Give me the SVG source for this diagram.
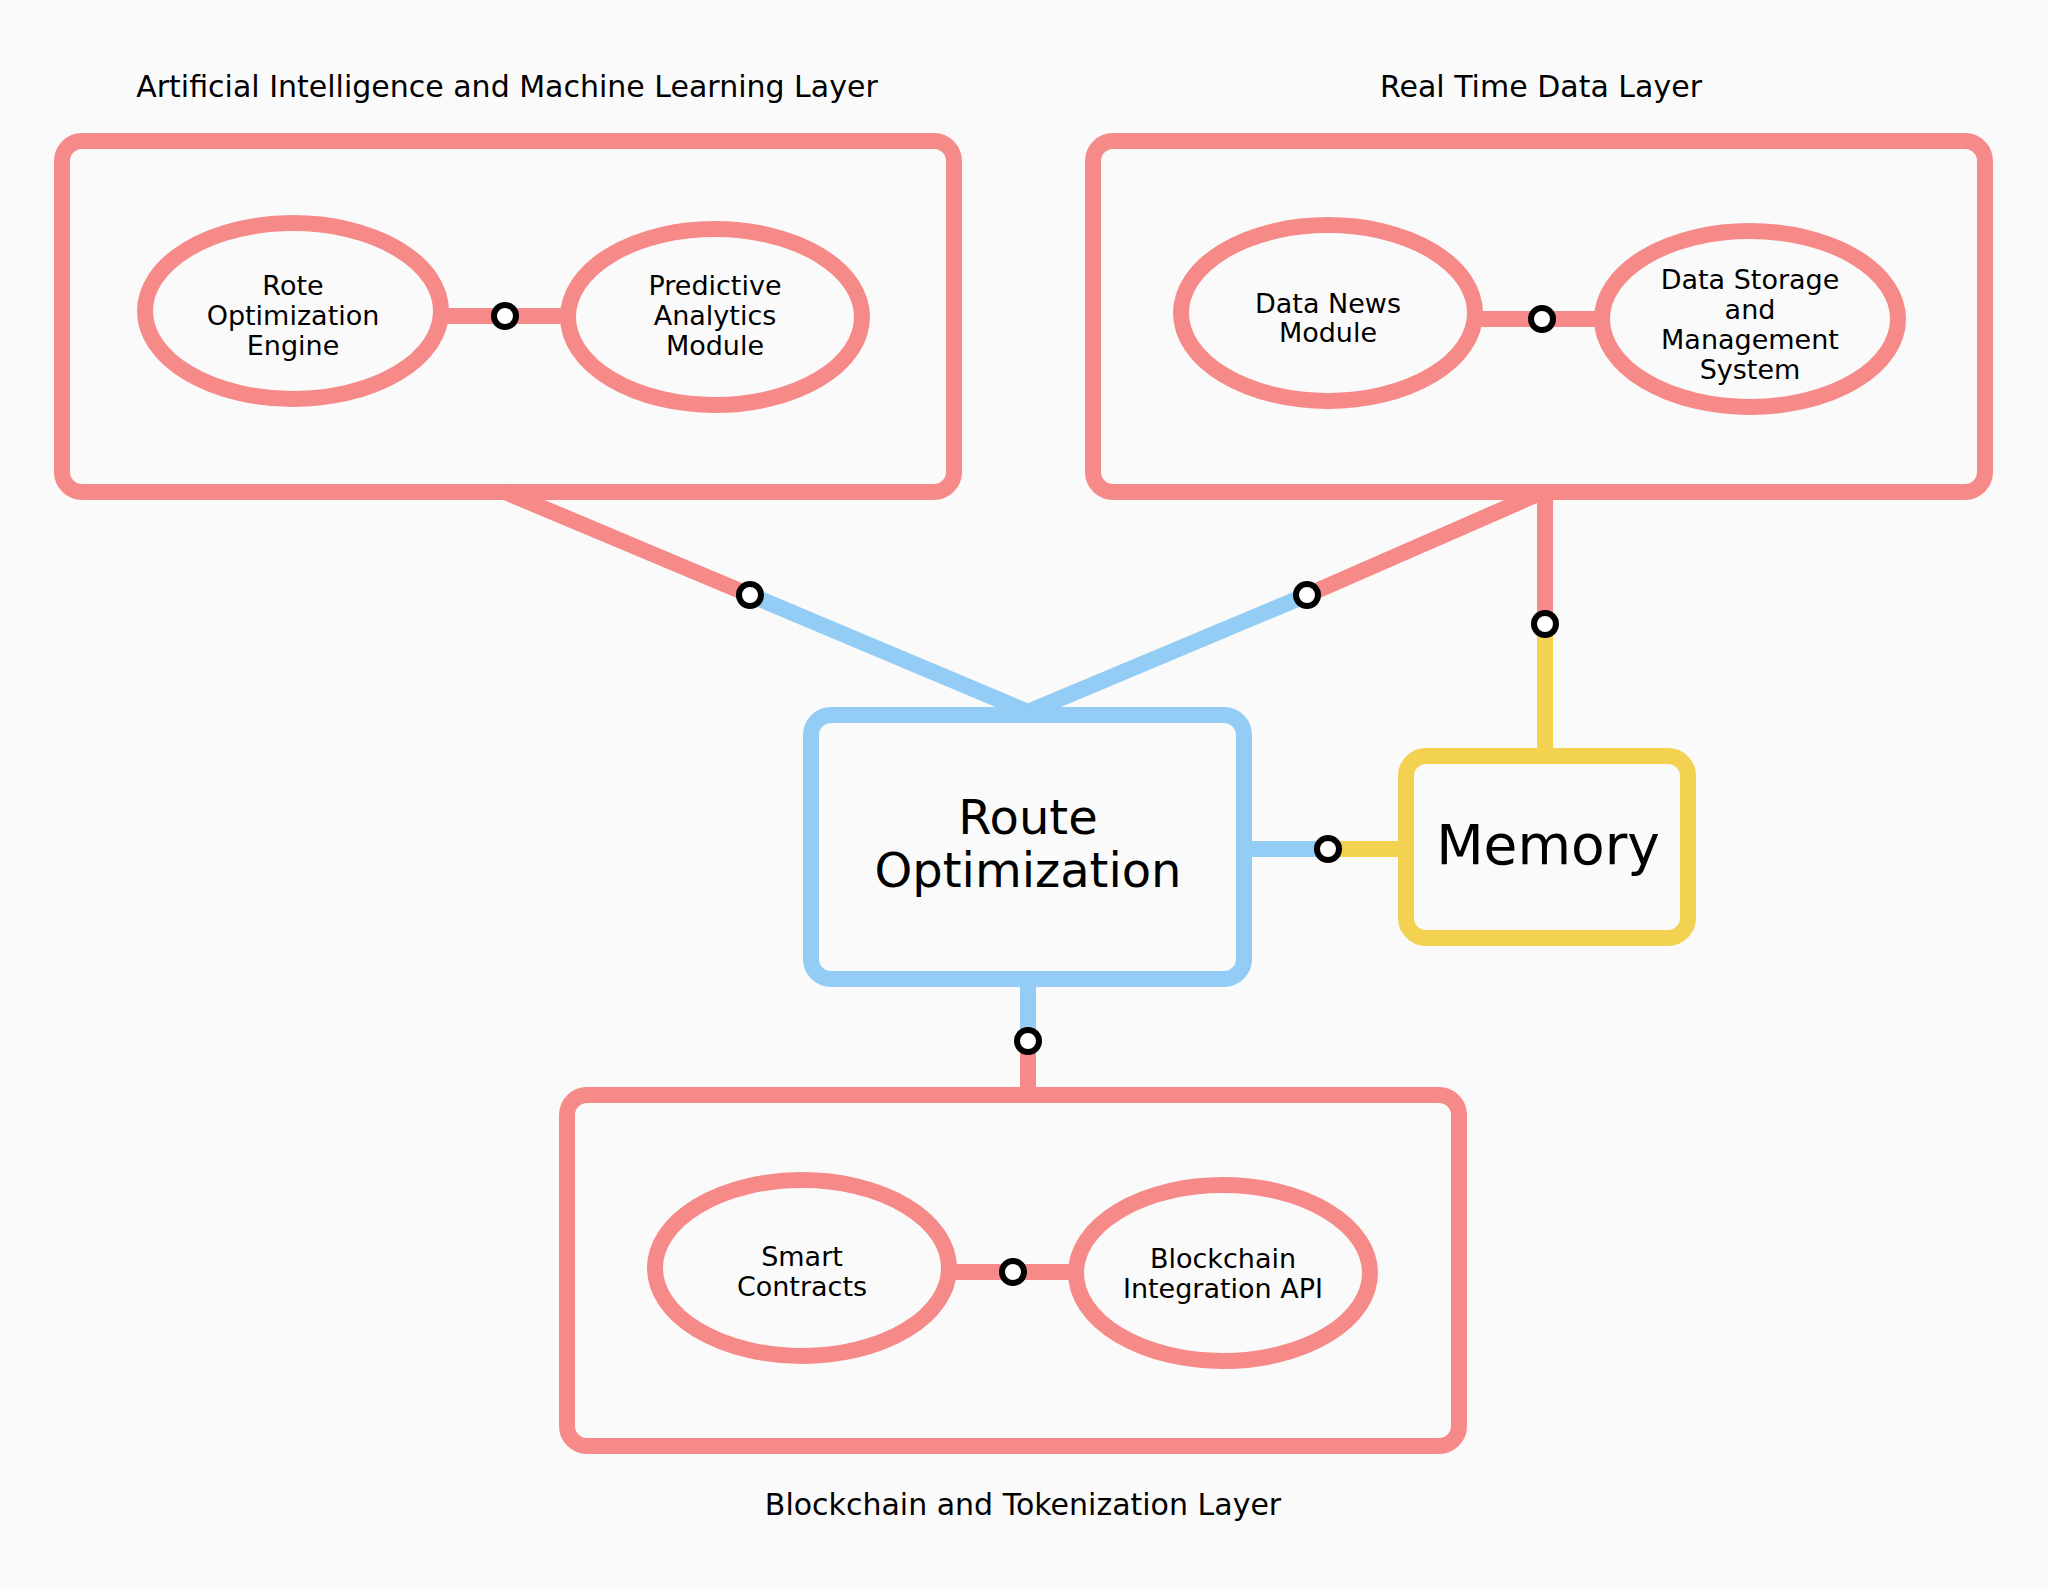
<svg xmlns="http://www.w3.org/2000/svg" width="2048" height="1588" viewBox="0 0 2048 1588">
<style>
.bg{fill:#FAFAFA}
.box{fill:#FAFAFA;stroke-width:16}
.red{stroke:#F68A89}
.blue{stroke:#93CCF4}
.yel{stroke:#F4D251}
.ell{fill:#FAFAFA;stroke:#F68A89;stroke-width:16}
.ln{fill:none;stroke-width:16}
.dot{fill:#FFFFFF;stroke:#000000;stroke-width:6}
text{font-family:"DejaVu Sans","Liberation Sans",sans-serif;fill:#000000;text-anchor:middle}
.t{font-size:30px}
.e{font-size:27px}
</style>
<rect class="bg" x="0" y="0" width="2048" height="1588"/>
<g id="ai-layer">
<rect class="box red" x="62" y="141" width="892" height="351" rx="20"/>
<text class="t" x="507" y="97">Artificial Intelligence and Machine Learning Layer</text>
</g>
<g id="realtime-layer">
<rect class="box red" x="1093" y="141" width="892" height="351" rx="20"/>
<text class="t" x="1541" y="97">Real Time Data Layer</text>
</g>
<g id="blockchain-layer">
<rect class="box red" x="567" y="1095" width="892" height="351" rx="20"/>
<text class="t" x="1023" y="1515">Blockchain and Tokenization Layer</text>
</g>
<g id="connectors">
<line class="ln red" x1="505" y1="492" x2="750" y2="595"/>
<line class="ln blue" x1="750" y1="595" x2="1028" y2="712"/>
<line class="ln red" x1="1538" y1="494" x2="1307" y2="595"/>
<line class="ln blue" x1="1307" y1="595" x2="1028" y2="712"/>
<line class="ln red" x1="1545" y1="494" x2="1545" y2="624"/>
<line class="ln yel" x1="1545" y1="624" x2="1545" y2="756"/>
<line class="ln blue" x1="1244" y1="849" x2="1328" y2="849"/>
<line class="ln yel" x1="1328" y1="849" x2="1406" y2="849"/>
<line class="ln blue" x1="1028" y1="979" x2="1028" y2="1041"/>
<line class="ln red" x1="1028" y1="1041" x2="1028" y2="1095"/>
<line class="ln red" x1="435" y1="316" x2="572" y2="316"/>
<line class="ln red" x1="1470" y1="319" x2="1607" y2="319"/>
<line class="ln red" x1="944" y1="1272" x2="1081" y2="1272"/>
</g>
<g id="rote-engine">
<ellipse class="ell" cx="293" cy="311" rx="148" ry="88"/>
<text class="e" x="293" y="295">Rote</text>
<text class="e" x="293" y="325">Optimization</text>
<text class="e" x="293" y="355">Engine</text>
</g>
<g id="predictive">
<ellipse class="ell" cx="715" cy="317" rx="147" ry="88"/>
<text class="e" x="715" y="295">Predictive</text>
<text class="e" x="715" y="325">Analytics</text>
<text class="e" x="715" y="355">Module</text>
</g>
<g id="data-news">
<ellipse class="ell" cx="1328" cy="313" rx="147" ry="88"/>
<text class="e" x="1328" y="313">Data News</text>
<text class="e" x="1328" y="342">Module</text>
</g>
<g id="data-storage">
<ellipse class="ell" cx="1750" cy="319" rx="148" ry="88"/>
<text class="e" x="1750" y="289">Data Storage</text>
<text class="e" x="1750" y="319">and</text>
<text class="e" x="1750" y="349">Management</text>
<text class="e" x="1750" y="379">System</text>
</g>
<g id="smart-contracts">
<ellipse class="ell" cx="802" cy="1268" rx="147" ry="88"/>
<text class="e" x="802" y="1266">Smart</text>
<text class="e" x="802" y="1296">Contracts</text>
</g>
<g id="blockchain-api">
<ellipse class="ell" cx="1223" cy="1273" rx="147" ry="88"/>
<text class="e" x="1223" y="1268">Blockchain</text>
<text class="e" x="1223" y="1298">Integration API</text>
</g>
<g id="route-optimization">
<rect class="box blue" x="811" y="715" width="433" height="264" rx="20"/>
<text x="1028" y="834" font-size="48">Route</text>
<text x="1028" y="887" font-size="48">Optimization</text>
</g>
<g id="memory">
<rect class="box yel" x="1406" y="756" width="282" height="182" rx="20"/>
<text x="1548" y="864" font-size="55">Memory</text>
</g>
<g id="junctions">
<circle class="dot" cx="505" cy="316" r="11"/>
<circle class="dot" cx="1542" cy="319" r="11"/>
<circle class="dot" cx="1013" cy="1272" r="11"/>
<circle class="dot" cx="750" cy="595" r="11"/>
<circle class="dot" cx="1307" cy="595" r="11"/>
<circle class="dot" cx="1545" cy="624" r="11"/>
<circle class="dot" cx="1328" cy="849" r="11"/>
<circle class="dot" cx="1028" cy="1041" r="11"/>
</g>
</svg>
